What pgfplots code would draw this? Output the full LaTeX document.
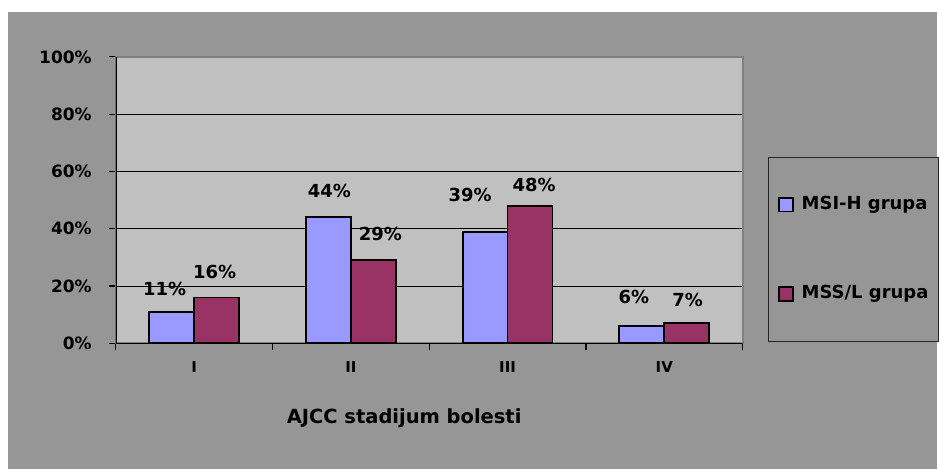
\documentclass[border=0pt]{standalone}
\usepackage{fontspec}
\setmainfont{DejaVu Sans}
\usepackage{pgfplots}
\pgfplotsset{compat=1.18}
\usepackage{pgfplotstable}
\definecolor{bg}{HTML}{969696}
\definecolor{plotbg}{HTML}{C0C0C0}
\definecolor{msi}{HTML}{9999FF}
\definecolor{mss}{HTML}{993366}
\definecolor{frame}{HTML}{808080}

\pgfplotstableread{
x y dx dy
0 11 -7 15
1 44 1 19
2 39 -15 29
3 6 -8 22
}\msidata
\pgfplotstableread{
x y dx dy
0 16 -2 18
1 29 7 19
2 48 4 13
3 7 1 16
}\mssdata

\pgfplotsset{
  lgimg/.style={legend image code/.code={\draw[##1, draw=black, line width=1.6bp] (0bp,-7bp) rectangle (14bp,7bp);}},
  barlab/.style={
    nodes near coords={\pgfmathprintnumber{\pgfplotspointmeta}\%},
    visualization depends on={\thisrow{dx}\as\dx},
    visualization depends on={\thisrow{dy}\as\dy},
    every node near coord/.append style={font=\bfseries\fontsize{18bp}{20bp}\selectfont, anchor=south, inner sep=0pt, xshift=\dx bp, yshift=\dy bp, text=black},
  },
}

\begin{document}
\begin{tikzpicture}[x=1bp,y=1bp]
\fill[white] (0,0) rectangle (939,470);
\fill[bg] (8,0) rectangle (939,458);
\begin{axis}[
  at={(116bp,126bp)}, anchor=south west,
  width=628bp, height=287bp, scale only axis,
  /pgf/number format/assume math mode=true,
  xmin=-0.5, xmax=3.5, ymin=0, ymax=100,
  ybar=0pt, bar width=45bp,
  axis background/.style={fill=plotbg},
  axis line style={draw=frame, line width=1.8bp},
  ytick={0,20,40,60,80,100},
  yticklabel={\pgfmathprintnumber{\tick}\%},
  xtick={0,1,2,3},
  xticklabels={I,II,III,IV},
  minor xtick={-0.5,0.5,1.5,2.5,3.5},
  xtick pos=bottom, ytick pos=left,
  tick align=outside,
  major tick length=7bp, minor tick length=7bp,
  major x tick style={draw=none},
  tick style={black, line width=1.2bp},
  minor x tick style={black, line width=1.2bp},
  ymajorgrids,
  major grid style={black, line width=0.9bp},
  yticklabel style={font=\bfseries\fontsize{17bp}{19bp}\selectfont, anchor=east, inner sep=0pt, xshift=-17bp},
  xticklabel style={font=\bfseries\fontsize{15bp}{17bp}\selectfont, anchor=base, inner sep=0pt, yshift=-22bp},
  xlabel={AJCC stadijum bolesti},
  xlabel style={at={(axis description cs:0.46,0)}, anchor=base, yshift=-80bp, font=\bfseries\fontsize{19.5bp}{22bp}\selectfont, inner sep=0pt},
  legend style={at={(1.0398,0.6516)}, anchor=north west, draw=black!85, line width=1.2bp, fill=bg,
    inner xsep=10bp, inner ysep=39bp, row sep=72.5bp, column sep=8bp,
    nodes={inner sep=0pt, text height=13bp, text depth=4bp, font=\bfseries\fontsize{18bp}{20bp}\selectfont}},
  legend cell align=left,
]
\addplot[fill=msi, draw=black, line width=1.8bp, lgimg, barlab] table[x=x,y=y] {\msidata};
\addplot[fill=mss, draw=black, line width=1.8bp, lgimg, barlab] table[x=x,y=y] {\mssdata};
\legend{MSI-H grupa, MSS/L grupa}
\draw[black, line width=1.5bp] (rel axis cs:0,1) -- (rel axis cs:0,0) -- (rel axis cs:1,0);
\end{axis}
\end{tikzpicture}
\end{document}
